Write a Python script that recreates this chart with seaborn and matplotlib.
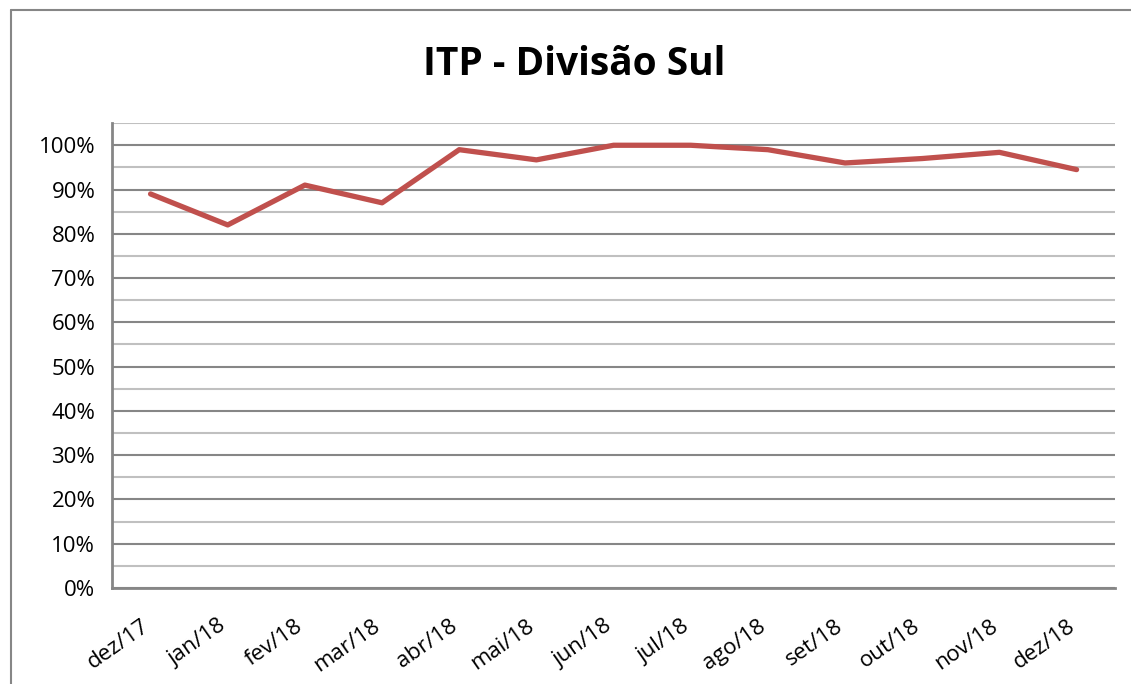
import matplotlib
matplotlib.use("Agg")
import matplotlib.pyplot as plt
from matplotlib.ticker import MultipleLocator, PercentFormatter
from matplotlib.lines import Line2D
from matplotlib.transforms import ScaledTranslation
import seaborn as sns
import pandas as pd

meses = ["dez/17", "jan/18", "fev/18", "mar/18", "abr/18", "mai/18", "jun/18",
         "jul/18", "ago/18", "set/18", "out/18", "nov/18", "dez/18"]
itp = [0.89, 0.82, 0.91, 0.87, 0.99, 0.967, 1.00, 1.00, 0.99, 0.96, 0.97, 0.984, 0.945]

df = pd.DataFrame({"mes": meses, "itp": itp})

sns.set_theme(style="white")
plt.rcParams['font.family'] = ['Open Sans', 'DejaVu Sans']

fig = plt.figure(figsize=(11.31, 6.84), dpi=100)
ax = fig.add_axes([0.099, 0.1404, 0.887, 0.6796])

sns.lineplot(data=df, x="mes", y="itp", ax=ax, color="#C0504D", linewidth=3.8,
             sort=False)

ax.set_xlim(-0.5, len(meses) - 0.5)
ax.set_ylim(0, 1.05)
ax.yaxis.set_major_locator(MultipleLocator(0.1))
ax.yaxis.set_minor_locator(MultipleLocator(0.05))
ax.yaxis.set_major_formatter(PercentFormatter(1.0, decimals=0))
ax.grid(which="major", axis="y", color="#868686", linewidth=1.5)
ax.grid(which="minor", axis="y", color="#C0C0C0", linewidth=1.5)
ax.set_axisbelow(True)

for s in ["top", "right"]:
    ax.spines[s].set_visible(False)
for s in ["left", "bottom"]:
    ax.spines[s].set_color("#868686")
    ax.spines[s].set_linewidth(2)

ax.tick_params(axis="both", which="both", length=0, labelsize=16, colors="black")
ax.tick_params(axis="y", pad=12)
ax.set_xticks(range(len(meses)))
ax.set_xticklabels(meses, rotation=35, ha="right", rotation_mode="anchor")
ax.tick_params(axis="x", pad=20)
# nudge month labels left so they end under the point
shift = ScaledTranslation(-10 / 100, 0, fig.dpi_scale_trans)
for lbl in ax.get_xticklabels():
    lbl.set_transform(lbl.get_transform() + shift)
ax.set_xlabel("")
ax.set_ylabel("")

fig.text(0.508, 0.905, "ITP - Divisão Sul", ha="center", va="center",
         fontsize=28, fontweight="bold", color="black")

# chart area border (left and top visible)
fig.add_artist(Line2D([0.0093, 0.0093], [0, 0.985], transform=fig.transFigure,
                      color="#868686", linewidth=1.5))
fig.add_artist(Line2D([0.0093, 1.0], [0.985, 0.985], transform=fig.transFigure,
                      color="#868686", linewidth=1.5))

fig.savefig("out.png", dpi=100)
